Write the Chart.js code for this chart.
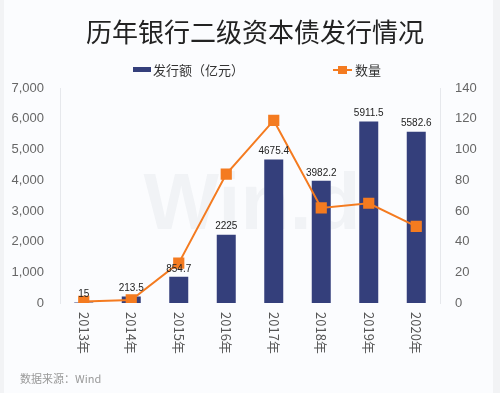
<!DOCTYPE html>
<html>
<head>
<meta charset="utf-8">
<script src="https://cdn.jsdelivr.net/npm/chart.js@4"></script>
<style>
  html, body { margin: 0; padding: 0; background: #f4f5f7; }
  #wrap { width: 500px; height: 393px; }
</style>
</head>
<body>
<div id="wrap"><canvas id="chart"></canvas></div>
<script>
const years = ["2013年", "2014年", "2015年", "2016年", "2017年", "2018年", "2019年", "2020年"];
const amounts = [15, 213.5, 854.7, 2225, 4675.4, 3982.2, 5911.5, 5582.6];
const counts = [1, 2, 26, 84, 119, 62, 65, 50];
const amountLabels = ["15", "213.5", "854.7", "2225", "4675.4", "3982.2", "5911.5", "5582.6"];

const navy = "#343f7b";
const orange = "#f47b20";
const numFont = '"Liberation Sans", "Noto Sans CJK SC", sans-serif';
const cjkFont = '"Noto Sans CJK SC", "Liberation Sans", sans-serif';

// background panel, watermark, legend, source line, rotated year labels, bar values
const decorations = {
  id: "decorations",
  beforeDraw(chart) {
    const { ctx, width, height } = chart;
    ctx.save();
    ctx.fillStyle = "#f2f3f5";
    ctx.fillRect(0, 0, width, height);
    ctx.fillStyle = "#fbfcfe";
    ctx.fillRect(4, 0, width - 11, height);
    ctx.restore();
  },
  beforeDatasetsDraw(chart) {
    const { ctx } = chart;
    ctx.save();
    ctx.font = "bold 80px " + numFont;
    ctx.fillStyle = "rgba(30, 40, 60, 0.045)";
    ctx.textAlign = "center";
    ctx.textBaseline = "middle";
    ctx.fillText("Win.d", 252, 207);
    ctx.restore();
  },
  afterDraw(chart) {
    const { ctx, chartArea } = chart;
    const x = chart.scales.x;
    ctx.save();

    // legend
    ctx.font = "13px " + cjkFont;
    ctx.textBaseline = "middle";
    ctx.fillStyle = navy;
    ctx.fillRect(133, 67, 18, 5);
    ctx.fillStyle = "#333";
    ctx.fillText("发行额（亿元）", 153, 70);
    ctx.strokeStyle = orange;
    ctx.lineWidth = 2;
    ctx.beginPath();
    ctx.moveTo(333, 70);
    ctx.lineTo(352, 70);
    ctx.stroke();
    ctx.fillStyle = orange;
    ctx.fillRect(338, 66, 9, 8);
    ctx.fillStyle = "#333";
    ctx.fillText("数量", 355, 70);

    // rotated year labels
    ctx.font = "13px " + cjkFont;
    ctx.fillStyle = "#555";
    years.forEach((label, i) => {
      ctx.save();
      ctx.translate(x.getPixelForTick(i), chartArea.bottom + 9);
      ctx.rotate(Math.PI / 2);
      ctx.textAlign = "left";
      ctx.textBaseline = "middle";
      ctx.fillText(label, 0, 0);
      ctx.restore();
    });

    // values above bars
    const bars = chart.getDatasetMeta(1).data;
    ctx.font = "10px " + numFont;
    ctx.fillStyle = "#222";
    ctx.textAlign = "center";
    ctx.textBaseline = "bottom";
    bars.forEach((bar, i) => {
      ctx.fillText(amountLabels[i], bar.x, bar.y - 3);
    });

    // source
    ctx.font = "11px " + cjkFont;
    ctx.fillStyle = "#999";
    ctx.textAlign = "left";
    ctx.textBaseline = "middle";
    ctx.fillText("数据来源：Wind", 20, 379);
    ctx.restore();
  }
};

new Chart(document.getElementById("chart"), {
  data: {
    labels: years,
    datasets: [
      {
        type: "line",
        label: "数量",
        data: counts,
        yAxisID: "y1",
        borderColor: orange,
        backgroundColor: orange,
        borderWidth: 2,
        pointStyle: "rect",
        pointRadius: 6.5,
        pointHoverRadius: 6.5,
        tension: 0,
        order: 1
      },
      {
        type: "bar",
        label: "发行额（亿元）",
        data: amounts,
        yAxisID: "y",
        backgroundColor: navy,
        barPercentage: 0.8,
        categoryPercentage: 0.5,
        order: 2
      }
    ]
  },
  options: {
    responsive: true,
    maintainAspectRatio: false,
    animation: false,
    layout: { padding: { left: 10, right: 0, top: 0, bottom: 40 } },
    plugins: {
      legend: { display: false },
      tooltip: { enabled: false },
      title: {
        display: true,
        text: "历年银行二级资本债发行情况",
        color: "#222",
        font: { family: cjkFont, size: 26, weight: "normal", lineHeight: 1.2 },
        padding: { top: 17, bottom: 40 }
      }
    },
    scales: {
      x: {
        grid: { display: false, drawTicks: false },
        border: { display: false },
        ticks: { callback: () => "" },
        afterFit(scale) { scale.height = 50; }
      },
      y: {
        position: "left",
        min: 0,
        max: 7000,
        ticks: {
          stepSize: 1000,
          padding: 16,
          color: "#666",
          font: { family: numFont, size: 13 },
          callback: v => v.toLocaleString("en-US")
        },
        grid: { display: false, drawTicks: false },
        border: { display: true, color: "#e6e8ec", width: 1 },
        afterFit(scale) { scale.width = 50; }
      },
      y1: {
        position: "right",
        min: 0,
        max: 140,
        ticks: {
          stepSize: 20,
          padding: 15,
          color: "#666",
          font: { family: numFont, size: 13 }
        },
        grid: { display: false, drawTicks: false },
        border: { display: true, color: "#e6e8ec", width: 1 },
        afterFit(scale) { scale.width = 60; }
      }
    }
  },
  plugins: [decorations]
});
</script>
</body>
</html>
